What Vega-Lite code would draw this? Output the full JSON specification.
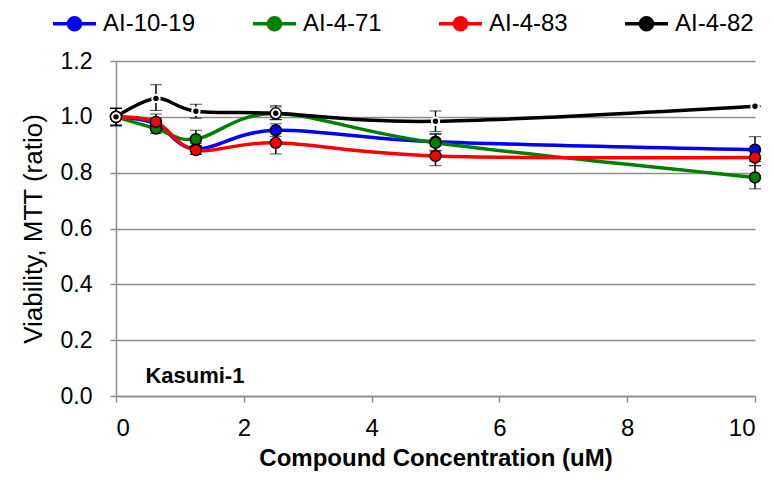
{
  "$schema": "https://vega.github.io/schema/vega-lite/v6.json",
  "autosize": {"type": "none"},
  "padding": {"left": 116, "top": 61, "right": 19, "bottom": 82},
  "width": 639,
  "height": 335,
  "background": "white",
  "config": {
    "font": "Liberation Sans",
    "view": {"stroke": null},
    "axis": {"labelFont": "Liberation Sans", "titleFont": "Liberation Sans"}
  },
  "datasets": {
    "pts": [
      {"s": "AI-10-19", "x": 0, "y": 1.0, "lo": 0.97, "hi": 1.03},
      {"s": "AI-10-19", "x": 0.625, "y": 0.975, "lo": 0.955, "hi": 0.995},
      {"s": "AI-10-19", "x": 1.25, "y": 0.885, "lo": 0.865, "hi": 0.905},
      {"s": "AI-10-19", "x": 2.5, "y": 0.952, "lo": 0.93, "hi": 0.975},
      {"s": "AI-10-19", "x": 5, "y": 0.911, "lo": 0.88, "hi": 0.94},
      {"s": "AI-10-19", "x": 10, "y": 0.882, "lo": 0.84, "hi": 0.929},
      {"s": "AI-4-71", "x": 0, "y": 1.0, "lo": 0.97, "hi": 1.03},
      {"s": "AI-4-71", "x": 0.625, "y": 0.958, "lo": 0.94, "hi": 0.975},
      {"s": "AI-4-71", "x": 1.25, "y": 0.92, "lo": 0.888, "hi": 0.952},
      {"s": "AI-4-71", "x": 2.5, "y": 1.012, "lo": 0.99, "hi": 1.035},
      {"s": "AI-4-71", "x": 5, "y": 0.907, "lo": 0.877, "hi": 0.937},
      {"s": "AI-4-71", "x": 10, "y": 0.783, "lo": 0.742, "hi": 0.825},
      {"s": "AI-4-83", "x": 0, "y": 1.0, "lo": 0.97, "hi": 1.03},
      {"s": "AI-4-83", "x": 0.625, "y": 0.982, "lo": 0.955, "hi": 1.01},
      {"s": "AI-4-83", "x": 1.25, "y": 0.881, "lo": 0.865, "hi": 0.897},
      {"s": "AI-4-83", "x": 2.5, "y": 0.907, "lo": 0.867, "hi": 0.947},
      {"s": "AI-4-83", "x": 5, "y": 0.86, "lo": 0.825, "hi": 0.895},
      {"s": "AI-4-83", "x": 10, "y": 0.854, "lo": 0.825, "hi": 0.883},
      {"s": "AI-4-82", "x": 0, "y": 1.0, "lo": 0.967, "hi": 1.032},
      {"s": "AI-4-82", "x": 0.625, "y": 1.066, "lo": 1.023, "hi": 1.115},
      {"s": "AI-4-82", "x": 1.25, "y": 1.02, "lo": 0.995, "hi": 1.045},
      {"s": "AI-4-82", "x": 2.5, "y": 1.013, "lo": 0.99, "hi": 1.04},
      {"s": "AI-4-82", "x": 5, "y": 0.984, "lo": 0.947, "hi": 1.021},
      {"s": "AI-4-82", "x": 10, "y": 1.038, "lo": 1.038, "hi": 1.038}
    ],
    "lbl": [{"x": 0.46, "y": 0.073, "t": "Kasumi-1"}]
  },
  "data": {"name": "pts"},
  "encoding": {
    "x": {
      "field": "x", "type": "quantitative",
      "scale": {"domain": [0, 10], "nice": false, "zero": false},
      "axis": {
        "values": [0, 2, 4, 6, 8, 10], "grid": false,
        "title": "Compound Concentration (uM)",
        "titleFontSize": 24, "titleFontWeight": "bold", "titleColor": "black", "titlePadding": 6,
        "labelFontSize": 24, "labelColor": "black", "labelPadding": 14,
        "domainColor": "#8C8C8C", "domainWidth": 1.5, "tickColor": "#8C8C8C", "tickWidth": 1.5, "tickSize": 6
      }
    },
    "y": {
      "field": "y", "type": "quantitative",
      "scale": {"domain": [0, 1.2], "nice": false},
      "axis": {
        "values": [0, 0.2, 0.4, 0.6, 0.8, 1.0, 1.2], "format": ".1f",
        "grid": true, "gridColor": "#8C8C8C", "gridWidth": 1.5,
        "title": "Viability, MTT (ratio)",
        "titleFontSize": 26, "titleFontWeight": "normal", "titleColor": "black", "titlePadding": 14,
        "labelFontSize": 23, "labelColor": "black", "labelPadding": 18,
        "domainColor": "#8C8C8C", "domainWidth": 1.5, "tickColor": "#8C8C8C", "tickWidth": 1.5, "tickSize": 6
      }
    }
  },
  "layer": [
    {
      "mark": {"type": "line", "interpolate": "cardinal", "tension": 0, "strokeWidth": 3.5},
      "encoding": {
        "color": {
          "field": "s", "type": "nominal",
          "scale": {"domain": ["AI-10-19", "AI-4-71", "AI-4-83", "AI-4-82"], "range": ["#0000FF", "#008000", "#FF0000", "#000000"]},
          "legend": {
            "orient": "none", "legendX": -65, "legendY": -61, "direction": "horizontal", "columns": 4,
            "title": null, "labelFontSize": 24, "labelColor": "black", "labelFont": "Liberation Sans",
            "symbolType": "M-1,0H-0.28M0.28,0H1M-0.28,0A0.28,0.28 0 1,1 0.28,0A0.28,0.28 0 1,1 -0.28,0Z",
            "symbolSize": 1849, "symbolStrokeWidth": 3.5, "columnPadding": 50, "labelOffset": 5, "padding": 0,
            "encode": {"symbols": {"update": {"fill": {"scale": "color", "field": "value"}, "stroke": {"scale": "color", "field": "value"}}}}
          }
        },
        "detail": {"field": "s"}
      }
    },
    {
      "mark": {"type": "errorbar", "ticks": {"size": 12, "color": "black", "strokeWidth": 2}, "rule": {"color": "black", "strokeWidth": 1.5}},
      "encoding": {
        "y": {"field": "lo", "type": "quantitative"},
        "y2": {"field": "hi"},
        "detail": {"field": "s"}
      }
    },
    {
      "transform": [{"filter": "datum.s != 'AI-4-82'"}],
      "mark": {"type": "point", "filled": true, "size": 120, "stroke": "black", "strokeWidth": 1.5, "opacity": 1},
      "encoding": {
        "fill": {"field": "s", "type": "nominal", "scale": {"domain": ["AI-10-19", "AI-4-71", "AI-4-83", "AI-4-82"], "range": ["#0000FF", "#008000", "#FF0000", "#000000"]}, "legend": null}
      }
    },
    {
      "transform": [{"filter": "datum.s == 'AI-4-82'"}],
      "mark": {"type": "point", "filled": true, "size": 55, "fill": "black", "stroke": "white", "strokeWidth": 2, "opacity": 1}
    },
    {
      "data": {"name": "lbl"},
      "mark": {"type": "text", "align": "left", "baseline": "middle", "fontSize": 22, "fontWeight": "bold", "font": "Liberation Sans", "color": "black"},
      "encoding": {"text": {"field": "t"}}
    }
  ]
}
